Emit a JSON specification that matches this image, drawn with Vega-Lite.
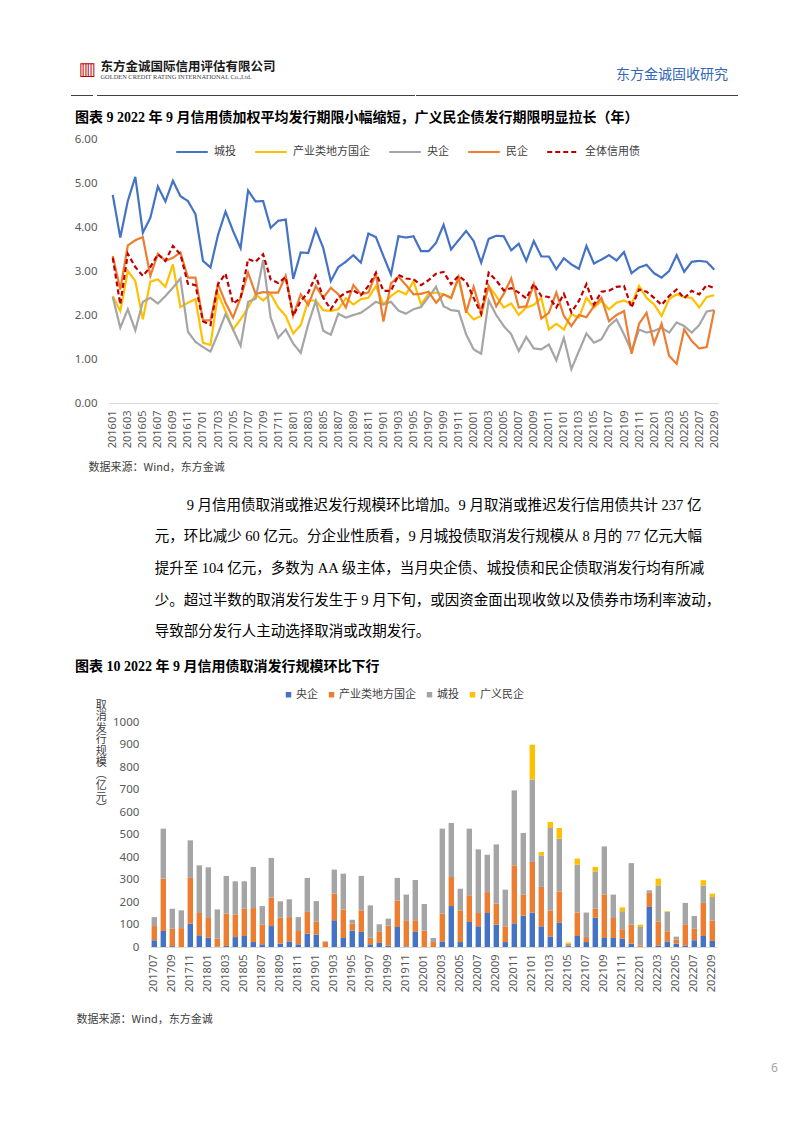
{
"$schema": "https://vega.github.io/schema/vega-lite/v6.json",
"background": "white",
"padding": {"left": 70, "top": 60, "right": 10, "bottom": 10},
"config": {"view": {"stroke": null}, "font": "Noto Sans CJK SC"},
"title": {"text": "6", "orient": "bottom", "anchor": "start", "frame": "group", "fontSize": 12, "fontWeight": "normal", "color": "#A6A6A6", "offset": 38, "dx": 700, "font": "Noto Sans"},
"concat": [
 {"hconcat": [
  {"width": 22, "height": 1, "data": {"values": [{}]}, "mark": {"type": "rule", "opacity": 0}, "encoding": {}, "view": {"fill": "#404040", "stroke": null},
   "title": {"text": "▥", "anchor": "start", "font": "DejaVu Sans", "fontSize": 18, "fontWeight": "normal", "color": "#C00000", "offset": 16, "dx": 8}},
  {"width": 318, "height": 1, "data": {"values": [{}]}, "mark": {"type": "rule", "opacity": 0}, "encoding": {}, "view": {"fill": "#404040", "stroke": null},
   "title": {"text": "东方金诚国际信用评估有限公司", "subtitle": "GOLDEN CREDIT RATING INTERNATIONAL Co.,Ltd.", "anchor": "start", "font": "Liberation Serif, Noto Sans CJK SC", "fontSize": 12.5, "fontWeight": "bold", "color": "#1A1A1A", "subtitleFont": "Liberation Serif", "subtitleFontSize": 6.4, "subtitleColor": "#404040", "subtitlePadding": 1, "offset": 14, "dx": 4}},
  {"width": 322, "height": 1, "data": {"values": [{}]}, "mark": {"type": "rule", "opacity": 0}, "encoding": {}, "view": {"fill": "#404040", "stroke": null},
   "title": {"text": "东方金诚固收研究", "anchor": "end", "font": "Noto Sans CJK SC", "fontSize": 14, "fontWeight": "normal", "color": "#3366B8", "offset": 13, "dx": -10}}
 ], "spacing": 0},
 {"concat": [
  {"width": 647, "height": 264,
   "title": {"text": "图表 9  2022 年 9 月信用债加权平均发行期限小幅缩短，广义民企债发行期限明显拉长（年）", "anchor": "start", "font": "Liberation Serif, Noto Sans CJK SC", "fontSize": 14, "fontWeight": "bold", "color": "#000000", "offset": 8, "dx": 4},
   "data": {"name": "d1"},
   "mark": {"type": "line", "strokeWidth": 2.2},
   "encoding": {
    "x": {"field": "m", "type": "ordinal", "scale": {"type": "point", "padding": 0.5, "range": [38, 647]},
     "axis": {"labelAngle": -90, "labelExpr": "parseInt(datum.value) % 2 == 1 ? datum.value : ''", "labelOverlap": false, "ticks": false, "domainColor": "#D9D9D9", "domainWidth": 1, "labelFont": "Noto Sans", "labelFontSize": 11, "labelColor": "#595959", "labelPadding": 7,
      "title": "数据来源：Wind，东方金诚", "titleFont": "Noto Sans CJK SC", "titleFontSize": 11, "titleFontWeight": "normal", "titleColor": "#404040", "titleAlign": "left", "titleAnchor": "start", "titleX": 17, "titlePadding": 14}},
    "y": {"field": "v", "type": "quantitative", "scale": {"domain": [0, 6], "nice": false},
     "axis": {"values": [0, 1, 2, 3, 4, 5, 6], "format": ".2f", "title": null, "domain": false, "ticks": false, "grid": false, "offset": -38, "labelFont": "Noto Sans", "labelFontSize": 11.5, "labelColor": "#595959", "labelPadding": 12}},
    "color": {"field": "s", "type": "nominal",
     "scale": {"domain": ["城投", "产业类地方国企", "央企", "民企", "全体信用债"], "range": ["#4472C4", "#FFC000", "#A5A5A5", "#ED7D31", "#C00000"]},
     "legend": {"title": null, "orient": "none", "legendX": 104, "legendY": -4, "direction": "horizontal", "symbolType": "stroke", "symbolSize": 1000, "symbolStrokeWidth": 2.2, "labelFont": "Noto Sans CJK SC", "labelFontSize": 11, "labelColor": "#404040", "columnPadding": 14, "labelOffset": 5, "padding": 0}},
    "strokeDash": {"field": "s", "type": "nominal",
     "scale": {"domain": ["城投", "产业类地方国企", "央企", "民企", "全体信用债"], "range": [[1, 0], [1, 0], [1, 0], [1, 0], [5, 3]]},
     "legend": {"title": null, "orient": "none", "legendX": 104, "legendY": -4, "direction": "horizontal", "symbolType": "stroke", "symbolSize": 1000, "symbolStrokeWidth": 2.2, "labelFont": "Noto Sans CJK SC", "labelFontSize": 11, "labelColor": "#404040", "columnPadding": 14, "labelOffset": 5, "padding": 0}}
   }
  },
  {"width": 646, "height": 225,
   "title": {"text": [
     "\u200B\u3000\u3000\u3000\u3000\u3000\u3000\u3000\u2002\u20099 月信用债取消或推迟发行规模环比增加。9 月取消或推迟发行信用债共计 237 亿",
     "\u200B\u3000\u3000\u3000\u3000\u3000\u2002元，环比减少 60 亿元。分企业性质看，9 月城投债取消发行规模从 8 月的 77 亿元大幅",
     "\u200B\u3000\u3000\u3000\u3000\u3000\u2002提升至 104 亿元，多数为 AA 级主体，当月央企债、城投债和民企债取消发行均有所减",
     "\u200B\u3000\u3000\u3000\u3000\u3000\u2002少。超过半数的取消发行发生于 9 月下旬，或因资金面出现收敛以及债券市场利率波动，",
     "\u200B\u3000\u3000\u3000\u3000\u3000\u2002导致部分发行人主动选择取消或改期发行。"],
    "subtitle": "图表 10  2022 年 9 月信用债取消发行规模环比下行",
    "anchor": "start", "font": "Liberation Serif, Noto Sans CJK SC", "fontSize": 14.5, "fontWeight": "normal", "lineHeight": 31.7, "color": "#000000", "dx": 4,
    "subtitleFont": "Liberation Serif, Noto Sans CJK SC", "subtitleFontSize": 14, "subtitleFontWeight": "bold", "subtitleColor": "#000000", "subtitlePadding": 20, "offset": 14},
   "data": {"name": "d2"},
   "transform": [{"calculate": "indexof(['央企', '产业类地方国企', '城投', '广义民企'], datum.s)", "as": "o"}],
   "mark": {"type": "bar"},
   "encoding": {
    "x": {"field": "m", "type": "ordinal", "scale": {"paddingInner": 0.4, "paddingOuter": 0.2, "range": [78.8, 645.8]},
     "axis": {"labelAngle": -90, "labelExpr": "parseInt(datum.value) % 2 == 1 ? datum.value : ''", "labelOverlap": false, "ticks": false, "domainColor": "#D9D9D9", "domainWidth": 1, "labelFont": "Noto Sans", "labelFontSize": 11, "labelColor": "#595959", "labelPadding": 7,
      "title": "数据来源：Wind，东方金诚", "titleFont": "Noto Sans CJK SC", "titleFontSize": 11, "titleFontWeight": "normal", "titleColor": "#404040", "titleAlign": "left", "titleAnchor": "start", "titleX": 5, "titlePadding": 22}},
    "y": {"field": "v", "type": "quantitative", "stack": "zero", "scale": {"domain": [0, 1000], "nice": false},
     "axis": {"values": [0, 100, 200, 300, 400, 500, 600, 700, 800, 900, 1000], "format": "d", "domain": false, "ticks": false, "grid": false, "offset": -78.8, "labelFont": "Noto Sans", "labelFontSize": 11.5, "labelColor": "#595959", "labelPadding": 11,
      "title": ["取", "消", "发", "行", "规", "模", "︵", "亿", "元", "︶"], "titleAngle": 0, "titleX": -49, "titleY": -23, "titleAlign": "center", "titleBaseline": "top", "titleFont": "Noto Sans CJK SC", "titleFontSize": 11, "titleLineHeight": 11.5, "titleFontWeight": "normal", "titleColor": "#404040"}},
    "color": {"field": "s", "type": "nominal", "sort": ["央企", "产业类地方国企", "城投", "广义民企"],
     "scale": {"domain": ["央企", "产业类地方国企", "城投", "广义民企"], "range": ["#4472C4", "#ED7D31", "#A5A5A5", "#FFC000"]},
     "legend": {"title": null, "orient": "none", "legendX": 212, "legendY": -33, "direction": "horizontal", "symbolType": "square", "symbolSize": 30, "symbolStrokeWidth": 0, "labelFont": "Noto Sans CJK SC", "labelFontSize": 11, "labelColor": "#404040", "columnPadding": 8, "labelOffset": 2, "padding": 0}},
    "order": {"field": "o", "type": "quantitative", "sort": "ascending"}
   }
  }
 ], "columns": 1, "spacing": 24,
 "resolve": {"scale": {"color": "independent", "strokeDash": "independent", "x": "independent", "y": "independent"}, "legend": {"color": "independent", "strokeDash": "independent"}}}
],
"columns": 1, "spacing": 15,
"resolve": {"scale": {"color": "independent", "strokeDash": "independent"}, "legend": {"color": "independent", "strokeDash": "independent"}},
"datasets": {
"d1": [
{"m":"201601","s":"城投","v":4.73},{"m":"201602","s":"城投","v":3.76},{"m":"201603","s":"城投","v":4.59},{"m":"201604","s":"城投","v":5.14},{"m":"201605","s":"城投","v":3.87},{"m":"201606","s":"城投","v":4.21},{"m":"201607","s":"城投","v":4.92},{"m":"201608","s":"城投","v":4.58},{"m":"201609","s":"城投","v":5.05},{"m":"201610","s":"城投","v":4.70},{"m":"201611","s":"城投","v":4.59},{"m":"201612","s":"城投","v":4.29},
{"m":"201701","s":"城投","v":3.23},{"m":"201702","s":"城投","v":3.08},{"m":"201703","s":"城投","v":3.82},{"m":"201704","s":"城投","v":4.35},{"m":"201705","s":"城投","v":3.91},{"m":"201706","s":"城投","v":3.52},{"m":"201707","s":"城投","v":4.83},{"m":"201708","s":"城投","v":4.58},{"m":"201709","s":"城投","v":4.59},{"m":"201710","s":"城投","v":3.98},{"m":"201711","s":"城投","v":4.14},{"m":"201712","s":"城投","v":4.17},
{"m":"201801","s":"城投","v":2.82},{"m":"201802","s":"城投","v":3.42},{"m":"201803","s":"城投","v":3.41},{"m":"201804","s":"城投","v":3.95},{"m":"201805","s":"城投","v":3.52},{"m":"201806","s":"城投","v":2.77},{"m":"201807","s":"城投","v":3.09},{"m":"201808","s":"城投","v":3.21},{"m":"201809","s":"城投","v":3.36},{"m":"201810","s":"城投","v":3.19},{"m":"201811","s":"城投","v":3.85},{"m":"201812","s":"城投","v":3.77},
{"m":"201901","s":"城投","v":3.34},{"m":"201902","s":"城投","v":2.92},{"m":"201903","s":"城投","v":3.79},{"m":"201904","s":"城投","v":3.76},{"m":"201905","s":"城投","v":3.79},{"m":"201906","s":"城投","v":3.45},{"m":"201907","s":"城投","v":3.45},{"m":"201908","s":"城投","v":3.64},{"m":"201909","s":"城投","v":4.05},{"m":"201910","s":"城投","v":3.49},{"m":"201911","s":"城投","v":3.70},{"m":"201912","s":"城投","v":3.91},
{"m":"202001","s":"城投","v":3.68},{"m":"202002","s":"城投","v":3.19},{"m":"202003","s":"城投","v":3.73},{"m":"202004","s":"城投","v":3.80},{"m":"202005","s":"城投","v":3.79},{"m":"202006","s":"城投","v":3.47},{"m":"202007","s":"城投","v":3.62},{"m":"202008","s":"城投","v":3.23},{"m":"202009","s":"城投","v":3.68},{"m":"202010","s":"城投","v":3.33},{"m":"202011","s":"城投","v":3.33},{"m":"202012","s":"城投","v":3.04},
{"m":"202101","s":"城投","v":3.29},{"m":"202102","s":"城投","v":3.15},{"m":"202103","s":"城投","v":3.05},{"m":"202104","s":"城投","v":3.57},{"m":"202105","s":"城投","v":3.17},{"m":"202106","s":"城投","v":3.26},{"m":"202107","s":"城投","v":3.36},{"m":"202108","s":"城投","v":3.24},{"m":"202109","s":"城投","v":3.43},{"m":"202110","s":"城投","v":2.95},{"m":"202111","s":"城投","v":3.08},{"m":"202112","s":"城投","v":3.14},
{"m":"202201","s":"城投","v":2.95},{"m":"202202","s":"城投","v":2.85},{"m":"202203","s":"城投","v":3.00},{"m":"202204","s":"城投","v":3.36},{"m":"202205","s":"城投","v":2.98},{"m":"202206","s":"城投","v":3.21},{"m":"202207","s":"城投","v":3.23},{"m":"202208","s":"城投","v":3.21},{"m":"202209","s":"城投","v":3.03},
{"m":"201601","s":"产业类地方国企","v":2.43},{"m":"201602","s":"产业类地方国企","v":2.09},{"m":"201603","s":"产业类地方国企","v":3.00},{"m":"201604","s":"产业类地方国企","v":2.77},{"m":"201605","s":"产业类地方国企","v":1.90},{"m":"201606","s":"产业类地方国企","v":2.76},{"m":"201607","s":"产业类地方国企","v":2.81},{"m":"201608","s":"产业类地方国企","v":2.64},{"m":"201609","s":"产业类地方国企","v":3.15},{"m":"201610","s":"产业类地方国企","v":2.18},{"m":"201611","s":"产业类地方国企","v":2.28},{"m":"201612","s":"产业类地方国企","v":2.36},
{"m":"201701","s":"产业类地方国企","v":1.37},{"m":"201702","s":"产业类地方国企","v":1.32},{"m":"201703","s":"产业类地方国企","v":2.48},{"m":"201704","s":"产业类地方国企","v":2.09},{"m":"201705","s":"产业类地方国企","v":1.67},{"m":"201706","s":"产业类地方国企","v":1.90},{"m":"201707","s":"产业类地方国企","v":2.17},{"m":"201708","s":"产业类地方国企","v":2.47},{"m":"201709","s":"产业类地方国企","v":2.33},{"m":"201710","s":"产业类地方国企","v":2.48},{"m":"201711","s":"产业类地方国企","v":2.17},{"m":"201712","s":"产业类地方国企","v":1.98},
{"m":"201801","s":"产业类地方国企","v":1.58},{"m":"201802","s":"产业类地方国企","v":1.77},{"m":"201803","s":"产业类地方国企","v":2.33},{"m":"201804","s":"产业类地方国企","v":2.33},{"m":"201805","s":"产业类地方国企","v":2.11},{"m":"201806","s":"产业类地方国企","v":2.09},{"m":"201807","s":"产业类地方国企","v":2.13},{"m":"201808","s":"产业类地方国企","v":2.38},{"m":"201809","s":"产业类地方国企","v":2.24},{"m":"201810","s":"产业类地方国企","v":2.36},{"m":"201811","s":"产业类地方国企","v":2.39},{"m":"201812","s":"产业类地方国企","v":2.66},
{"m":"201901","s":"产业类地方国企","v":2.24},{"m":"201902","s":"产业类地方国企","v":2.43},{"m":"201903","s":"产业类地方国企","v":2.55},{"m":"201904","s":"产业类地方国企","v":2.47},{"m":"201905","s":"产业类地方国企","v":2.77},{"m":"201906","s":"产业类地方国企","v":2.24},{"m":"201907","s":"产业类地方国企","v":2.48},{"m":"201908","s":"产业类地方国企","v":2.51},{"m":"201909","s":"产业类地方国企","v":2.47},{"m":"201910","s":"产业类地方国企","v":2.38},{"m":"201911","s":"产业类地方国企","v":2.85},{"m":"201912","s":"产业类地方国企","v":2.09},
{"m":"202001","s":"产业类地方国企","v":1.90},{"m":"202002","s":"产业类地方国企","v":1.98},{"m":"202003","s":"产业类地方国企","v":2.66},{"m":"202004","s":"产业类地方国企","v":2.43},{"m":"202005","s":"产业类地方国企","v":2.17},{"m":"202006","s":"产业类地方国企","v":2.26},{"m":"202007","s":"产业类地方国企","v":2.00},{"m":"202008","s":"产业类地方国企","v":2.17},{"m":"202009","s":"产业类地方国企","v":2.23},{"m":"202010","s":"产业类地方国企","v":2.39},{"m":"202011","s":"产业类地方国企","v":1.67},{"m":"202012","s":"产业类地方国企","v":1.80},
{"m":"202101","s":"产业类地方国企","v":1.67},{"m":"202102","s":"产业类地方国企","v":2.02},{"m":"202103","s":"产业类地方国企","v":1.94},{"m":"202104","s":"产业类地方国企","v":2.39},{"m":"202105","s":"产业类地方国企","v":2.17},{"m":"202106","s":"产业类地方国企","v":2.32},{"m":"202107","s":"产业类地方国企","v":2.13},{"m":"202108","s":"产业类地方国企","v":2.28},{"m":"202109","s":"产业类地方国企","v":2.33},{"m":"202110","s":"产业类地方国企","v":2.24},{"m":"202111","s":"产业类地方国企","v":2.66},{"m":"202112","s":"产业类地方国企","v":2.39},
{"m":"202201","s":"产业类地方国企","v":2.24},{"m":"202202","s":"产业类地方国企","v":1.98},{"m":"202203","s":"产业类地方国企","v":2.36},{"m":"202204","s":"产业类地方国企","v":2.47},{"m":"202205","s":"产业类地方国企","v":2.41},{"m":"202206","s":"产业类地方国企","v":2.39},{"m":"202207","s":"产业类地方国企","v":2.17},{"m":"202208","s":"产业类地方国企","v":2.41},{"m":"202209","s":"产业类地方国企","v":2.45},
{"m":"201601","s":"央企","v":2.41},{"m":"201602","s":"央企","v":1.71},{"m":"201603","s":"央企","v":2.13},{"m":"201604","s":"央企","v":1.65},{"m":"201605","s":"央企","v":2.30},{"m":"201606","s":"央企","v":2.39},{"m":"201607","s":"央企","v":2.26},{"m":"201608","s":"央企","v":2.43},{"m":"201609","s":"央企","v":2.62},{"m":"201610","s":"央企","v":2.83},{"m":"201611","s":"央企","v":1.62},{"m":"201612","s":"央企","v":1.39},
{"m":"201701","s":"央企","v":1.27},{"m":"201702","s":"央企","v":1.17},{"m":"201703","s":"央企","v":1.58},{"m":"201704","s":"央企","v":2.02},{"m":"201705","s":"央企","v":1.67},{"m":"201706","s":"央企","v":1.30},{"m":"201707","s":"央企","v":2.30},{"m":"201708","s":"央企","v":2.37},{"m":"201709","s":"央企","v":3.25},{"m":"201710","s":"央企","v":1.94},{"m":"201711","s":"央企","v":1.48},{"m":"201712","s":"央企","v":1.67},
{"m":"201801","s":"央企","v":1.35},{"m":"201802","s":"央企","v":1.14},{"m":"201803","s":"央企","v":1.79},{"m":"201804","s":"央企","v":2.32},{"m":"201805","s":"央企","v":1.64},{"m":"201806","s":"央企","v":1.55},{"m":"201807","s":"央企","v":2.03},{"m":"201808","s":"央企","v":1.94},{"m":"201809","s":"央企","v":2.00},{"m":"201810","s":"央企","v":2.05},{"m":"201811","s":"央企","v":2.17},{"m":"201812","s":"央企","v":2.30},
{"m":"201901","s":"央企","v":2.24},{"m":"201902","s":"央企","v":2.30},{"m":"201903","s":"央企","v":2.10},{"m":"201904","s":"央企","v":2.03},{"m":"201905","s":"央企","v":2.13},{"m":"201906","s":"央企","v":2.18},{"m":"201907","s":"央企","v":2.41},{"m":"201908","s":"央企","v":2.64},{"m":"201909","s":"央企","v":2.20},{"m":"201910","s":"央企","v":2.11},{"m":"201911","s":"央企","v":2.09},{"m":"201912","s":"央企","v":1.56},
{"m":"202001","s":"央企","v":1.22},{"m":"202002","s":"央企","v":1.12},{"m":"202003","s":"央企","v":2.33},{"m":"202004","s":"央企","v":2.00},{"m":"202005","s":"央企","v":1.75},{"m":"202006","s":"央企","v":1.56},{"m":"202007","s":"央企","v":1.18},{"m":"202008","s":"央企","v":1.50},{"m":"202009","s":"央企","v":1.24},{"m":"202010","s":"央企","v":1.22},{"m":"202011","s":"央企","v":1.33},{"m":"202012","s":"央企","v":0.97},
{"m":"202101","s":"央企","v":1.48},{"m":"202102","s":"央企","v":0.77},{"m":"202103","s":"央企","v":1.18},{"m":"202104","s":"央企","v":1.58},{"m":"202105","s":"央企","v":1.37},{"m":"202106","s":"央企","v":1.45},{"m":"202107","s":"央企","v":1.75},{"m":"202108","s":"央企","v":1.90},{"m":"202109","s":"央企","v":1.56},{"m":"202110","s":"央企","v":1.18},{"m":"202111","s":"央企","v":1.67},{"m":"202112","s":"央企","v":1.60},
{"m":"202201","s":"央企","v":1.64},{"m":"202202","s":"央企","v":1.71},{"m":"202203","s":"央企","v":1.60},{"m":"202204","s":"央企","v":1.83},{"m":"202205","s":"央企","v":1.75},{"m":"202206","s":"央企","v":1.60},{"m":"202207","s":"央企","v":1.77},{"m":"202208","s":"央企","v":2.08},{"m":"202209","s":"央企","v":2.11},
{"m":"201601","s":"民企","v":3.34},{"m":"201602","s":"民企","v":2.58},{"m":"201603","s":"民企","v":3.58},{"m":"201604","s":"民企","v":3.70},{"m":"201605","s":"民企","v":3.77},{"m":"201606","s":"民企","v":2.89},{"m":"201607","s":"民企","v":3.39},{"m":"201608","s":"民企","v":3.23},{"m":"201609","s":"民企","v":3.30},{"m":"201610","s":"民企","v":3.42},{"m":"201611","s":"民企","v":2.85},{"m":"201612","s":"民企","v":2.85},
{"m":"201701","s":"民企","v":1.88},{"m":"201702","s":"民企","v":1.88},{"m":"201703","s":"民企","v":2.70},{"m":"201704","s":"民企","v":2.28},{"m":"201705","s":"民企","v":1.94},{"m":"201706","s":"民企","v":2.39},{"m":"201707","s":"民企","v":2.96},{"m":"201708","s":"民企","v":2.48},{"m":"201709","s":"民企","v":2.52},{"m":"201710","s":"民企","v":2.51},{"m":"201711","s":"民企","v":2.51},{"m":"201712","s":"民企","v":2.89},
{"m":"201801","s":"民企","v":1.98},{"m":"201802","s":"民企","v":2.47},{"m":"201803","s":"民企","v":2.23},{"m":"201804","s":"民企","v":2.66},{"m":"201805","s":"民企","v":2.39},{"m":"201806","s":"民企","v":2.62},{"m":"201807","s":"民企","v":2.47},{"m":"201808","s":"民企","v":2.17},{"m":"201809","s":"民企","v":2.68},{"m":"201810","s":"民企","v":2.47},{"m":"201811","s":"民企","v":2.51},{"m":"201812","s":"民企","v":2.94},
{"m":"201901","s":"民企","v":1.85},{"m":"201902","s":"民企","v":2.72},{"m":"201903","s":"民企","v":2.87},{"m":"201904","s":"民企","v":2.68},{"m":"201905","s":"民企","v":2.47},{"m":"201906","s":"民企","v":2.48},{"m":"201907","s":"民企","v":2.53},{"m":"201908","s":"民企","v":2.28},{"m":"201909","s":"民企","v":2.47},{"m":"201910","s":"民企","v":2.39},{"m":"201911","s":"民企","v":2.86},{"m":"201912","s":"民企","v":2.05},
{"m":"202001","s":"民企","v":2.64},{"m":"202002","s":"民企","v":2.05},{"m":"202003","s":"民企","v":2.66},{"m":"202004","s":"民企","v":2.20},{"m":"202005","s":"民企","v":2.48},{"m":"202006","s":"民企","v":2.83},{"m":"202007","s":"民企","v":2.17},{"m":"202008","s":"民企","v":2.20},{"m":"202009","s":"民企","v":2.70},{"m":"202010","s":"民企","v":1.92},{"m":"202011","s":"民企","v":2.05},{"m":"202012","s":"民企","v":2.51},
{"m":"202101","s":"民企","v":1.98},{"m":"202102","s":"民企","v":1.75},{"m":"202103","s":"民企","v":2.00},{"m":"202104","s":"民企","v":1.95},{"m":"202105","s":"民企","v":2.20},{"m":"202106","s":"民企","v":2.39},{"m":"202107","s":"民企","v":1.86},{"m":"202108","s":"民企","v":2.00},{"m":"202109","s":"民企","v":2.09},{"m":"202110","s":"民企","v":1.12},{"m":"202111","s":"民企","v":1.80},{"m":"202112","s":"民企","v":2.05},
{"m":"202201","s":"民企","v":1.35},{"m":"202202","s":"民企","v":1.80},{"m":"202203","s":"民企","v":1.07},{"m":"202204","s":"民企","v":0.89},{"m":"202205","s":"民企","v":1.67},{"m":"202206","s":"民企","v":1.41},{"m":"202207","s":"民企","v":1.24},{"m":"202208","s":"民企","v":1.27},{"m":"202209","s":"民企","v":2.11},
{"m":"201601","s":"全体信用债","v":3.30},{"m":"201602","s":"全体信用债","v":2.24},{"m":"201603","s":"全体信用债","v":3.39},{"m":"201604","s":"全体信用债","v":3.09},{"m":"201605","s":"全体信用债","v":2.89},{"m":"201606","s":"全体信用债","v":3.09},{"m":"201607","s":"全体信用债","v":3.38},{"m":"201608","s":"全体信用债","v":3.23},{"m":"201609","s":"全体信用债","v":3.57},{"m":"201610","s":"全体信用债","v":3.38},{"m":"201611","s":"全体信用债","v":2.71},{"m":"201612","s":"全体信用债","v":2.68},
{"m":"201701","s":"全体信用债","v":1.86},{"m":"201702","s":"全体信用债","v":1.77},{"m":"201703","s":"全体信用债","v":2.70},{"m":"201704","s":"全体信用债","v":2.94},{"m":"201705","s":"全体信用债","v":2.26},{"m":"201706","s":"全体信用债","v":2.38},{"m":"201707","s":"全体信用债","v":3.27},{"m":"201708","s":"全体信用债","v":3.21},{"m":"201709","s":"全体信用债","v":3.38},{"m":"201710","s":"全体信用债","v":2.81},{"m":"201711","s":"全体信用债","v":2.73},{"m":"201712","s":"全体信用债","v":2.86},
{"m":"201801","s":"全体信用债","v":1.98},{"m":"201802","s":"全体信用债","v":2.32},{"m":"201803","s":"全体信用债","v":2.51},{"m":"201804","s":"全体信用债","v":2.89},{"m":"201805","s":"全体信用债","v":2.39},{"m":"201806","s":"全体信用债","v":2.13},{"m":"201807","s":"全体信用债","v":2.39},{"m":"201808","s":"全体信用债","v":2.51},{"m":"201809","s":"全体信用债","v":2.56},{"m":"201810","s":"全体信用债","v":2.45},{"m":"201811","s":"全体信用债","v":2.66},{"m":"201812","s":"全体信用债","v":2.96},
{"m":"201901","s":"全体信用债","v":2.55},{"m":"201902","s":"全体信用债","v":2.55},{"m":"201903","s":"全体信用债","v":2.91},{"m":"201904","s":"全体信用债","v":2.83},{"m":"201905","s":"全体信用债","v":2.81},{"m":"201906","s":"全体信用债","v":2.68},{"m":"201907","s":"全体信用债","v":2.79},{"m":"201908","s":"全体信用债","v":2.94},{"m":"201909","s":"全体信用债","v":2.98},{"m":"201910","s":"全体信用债","v":2.70},{"m":"201911","s":"全体信用债","v":2.89},{"m":"201912","s":"全体信用债","v":2.76},
{"m":"202001","s":"全体信用债","v":2.39},{"m":"202002","s":"全体信用债","v":2.03},{"m":"202003","s":"全体信用债","v":2.96},{"m":"202004","s":"全体信用债","v":2.79},{"m":"202005","s":"全体信用债","v":2.56},{"m":"202006","s":"全体信用债","v":2.61},{"m":"202007","s":"全体信用债","v":2.51},{"m":"202008","s":"全体信用债","v":2.38},{"m":"202009","s":"全体信用债","v":2.71},{"m":"202010","s":"全体信用债","v":2.43},{"m":"202011","s":"全体信用债","v":2.41},{"m":"202012","s":"全体信用债","v":2.17},
{"m":"202101","s":"全体信用债","v":2.48},{"m":"202102","s":"全体信用债","v":2.06},{"m":"202103","s":"全体信用债","v":2.32},{"m":"202104","s":"全体信用债","v":2.70},{"m":"202105","s":"全体信用债","v":2.24},{"m":"202106","s":"全体信用债","v":2.53},{"m":"202107","s":"全体信用债","v":2.55},{"m":"202108","s":"全体信用债","v":2.64},{"m":"202109","s":"全体信用债","v":2.66},{"m":"202110","s":"全体信用债","v":2.17},{"m":"202111","s":"全体信用债","v":2.58},{"m":"202112","s":"全体信用债","v":2.53},
{"m":"202201","s":"全体信用债","v":2.39},{"m":"202202","s":"全体信用债","v":2.23},{"m":"202203","s":"全体信用债","v":2.43},{"m":"202204","s":"全体信用债","v":2.58},{"m":"202205","s":"全体信用债","v":2.38},{"m":"202206","s":"全体信用债","v":2.55},{"m":"202207","s":"全体信用债","v":2.47},{"m":"202208","s":"全体信用债","v":2.68},{"m":"202209","s":"全体信用债","v":2.61}
],
"d2": [
{"m":"201707","s":"央企","v":30},{"m":"201707","s":"产业类地方国企","v":63},{"m":"201707","s":"城投","v":40},
{"m":"201708","s":"央企","v":71},{"m":"201708","s":"产业类地方国企","v":233},{"m":"201708","s":"城投","v":222},
{"m":"201709","s":"央企","v":4},{"m":"201709","s":"产业类地方国企","v":77},{"m":"201709","s":"城投","v":89},
{"m":"201710","s":"产业类地方国企","v":84},{"m":"201710","s":"城投","v":79},
{"m":"201711","s":"央企","v":104},{"m":"201711","s":"产业类地方国企","v":203},{"m":"201711","s":"城投","v":167},
{"m":"201712","s":"央企","v":52},{"m":"201712","s":"产业类地方国企","v":99},{"m":"201712","s":"城投","v":212},
{"m":"201801","s":"央企","v":41},{"m":"201801","s":"产业类地方国企","v":88},{"m":"201801","s":"城投","v":225},
{"m":"201802","s":"央企","v":2},{"m":"201802","s":"产业类地方国企","v":35},{"m":"201802","s":"城投","v":130},
{"m":"201803","s":"央企","v":5},{"m":"201803","s":"产业类地方国企","v":143},{"m":"201803","s":"城投","v":168},
{"m":"201804","s":"央企","v":44},{"m":"201804","s":"产业类地方国企","v":101},{"m":"201804","s":"城投","v":147},
{"m":"201805","s":"央企","v":49},{"m":"201805","s":"产业类地方国企","v":121},{"m":"201805","s":"城投","v":122},
{"m":"201806","s":"央企","v":22},{"m":"201806","s":"产业类地方国企","v":151},{"m":"201806","s":"城投","v":183},
{"m":"201807","s":"央企","v":12},{"m":"201807","s":"产业类地方国企","v":87},{"m":"201807","s":"城投","v":83},
{"m":"201808","s":"央企","v":93},{"m":"201808","s":"产业类地方国企","v":126},{"m":"201808","s":"城投","v":177},
{"m":"201809","s":"央企","v":15},{"m":"201809","s":"产业类地方国企","v":115},{"m":"201809","s":"城投","v":73},
{"m":"201810","s":"央企","v":25},{"m":"201810","s":"产业类地方国企","v":108},{"m":"201810","s":"城投","v":79},
{"m":"201811","s":"央企","v":12},{"m":"201811","s":"产业类地方国企","v":59},{"m":"201811","s":"城投","v":62},
{"m":"201812","s":"央企","v":59},{"m":"201812","s":"产业类地方国企","v":97},{"m":"201812","s":"城投","v":151},
{"m":"201901","s":"央企","v":55},{"m":"201901","s":"产业类地方国企","v":59},{"m":"201901","s":"城投","v":90},
{"m":"201902","s":"产业类地方国企","v":22},{"m":"201902","s":"城投","v":3},
{"m":"201903","s":"央企","v":119},{"m":"201903","s":"产业类地方国企","v":118},{"m":"201903","s":"城投","v":107},
{"m":"201904","s":"央企","v":40},{"m":"201904","s":"产业类地方国企","v":127},{"m":"201904","s":"城投","v":159},
{"m":"201905","s":"央企","v":73},{"m":"201905","s":"产业类地方国企","v":31},{"m":"201905","s":"城投","v":17},
{"m":"201906","s":"央企","v":67},{"m":"201906","s":"产业类地方国企","v":96},{"m":"201906","s":"城投","v":153},
{"m":"201907","s":"央企","v":12},{"m":"201907","s":"产业类地方国企","v":29},{"m":"201907","s":"城投","v":144},
{"m":"201908","s":"央企","v":18},{"m":"201908","s":"产业类地方国企","v":49},{"m":"201908","s":"城投","v":34},
{"m":"201909","s":"央企","v":6},{"m":"201909","s":"产业类地方国企","v":89},{"m":"201909","s":"城投","v":31},
{"m":"201910","s":"央企","v":89},{"m":"201910","s":"产业类地方国企","v":118},{"m":"201910","s":"城投","v":100},
{"m":"201911","s":"央企","v":3},{"m":"201911","s":"产业类地方国企","v":113},{"m":"201911","s":"城投","v":117},
{"m":"201912","s":"央企","v":67},{"m":"201912","s":"产业类地方国企","v":52},{"m":"201912","s":"城投","v":179},
{"m":"202001","s":"产业类地方国企","v":73},{"m":"202001","s":"城投","v":118},
{"m":"202002","s":"产业类地方国企","v":22},{"m":"202002","s":"城投","v":18},
{"m":"202003","s":"央企","v":25},{"m":"202003","s":"产业类地方国企","v":123},{"m":"202003","s":"城投","v":378},
{"m":"202004","s":"央企","v":182},{"m":"202004","s":"产业类地方国企","v":129},{"m":"202004","s":"城投","v":240},
{"m":"202005","s":"央企","v":22},{"m":"202005","s":"产业类地方国企","v":141},{"m":"202005","s":"城投","v":96},
{"m":"202006","s":"央企","v":111},{"m":"202006","s":"产业类地方国企","v":119},{"m":"202006","s":"城投","v":296},
{"m":"202007","s":"央企","v":92},{"m":"202007","s":"产业类地方国企","v":59},{"m":"202007","s":"城投","v":283},
{"m":"202008","s":"央企","v":151},{"m":"202008","s":"产业类地方国企","v":93},{"m":"202008","s":"城投","v":166},
{"m":"202009","s":"央企","v":99},{"m":"202009","s":"产业类地方国企","v":94},{"m":"202009","s":"城投","v":263},
{"m":"202010","s":"央企","v":22},{"m":"202010","s":"产业类地方国企","v":70},{"m":"202010","s":"城投","v":163},
{"m":"202011","s":"央企","v":105},{"m":"202011","s":"产业类地方国企","v":258},{"m":"202011","s":"城投","v":333},
{"m":"202012","s":"央企","v":139},{"m":"202012","s":"产业类地方国企","v":95},{"m":"202012","s":"城投","v":273},
{"m":"202101","s":"央企","v":153},{"m":"202101","s":"产业类地方国企","v":225},{"m":"202101","s":"城投","v":367},{"m":"202101","s":"广义民企","v":154},
{"m":"202102","s":"央企","v":92},{"m":"202102","s":"产业类地方国企","v":175},{"m":"202102","s":"城投","v":140},{"m":"202102","s":"广义民企","v":15},
{"m":"202103","s":"央企","v":47},{"m":"202103","s":"产业类地方国企","v":116},{"m":"202103","s":"城投","v":366},{"m":"202103","s":"广义民企","v":27},
{"m":"202104","s":"央企","v":107},{"m":"202104","s":"产业类地方国企","v":140},{"m":"202104","s":"城投","v":234},{"m":"202104","s":"广义民企","v":48},
{"m":"202105","s":"央企","v":4},{"m":"202105","s":"产业类地方国企","v":4},{"m":"202105","s":"城投","v":7},{"m":"202105","s":"广义民企","v":5},
{"m":"202106","s":"央企","v":49},{"m":"202106","s":"产业类地方国企","v":104},{"m":"202106","s":"城投","v":213},{"m":"202106","s":"广义民企","v":27},
{"m":"202107","s":"央企","v":22},{"m":"202107","s":"产业类地方国企","v":22},{"m":"202107","s":"城投","v":109},
{"m":"202108","s":"央企","v":130},{"m":"202108","s":"产业类地方国企","v":40},{"m":"202108","s":"城投","v":166},{"m":"202108","s":"广义民企","v":20},
{"m":"202109","s":"央企","v":40},{"m":"202109","s":"产业类地方国企","v":194},{"m":"202109","s":"城投","v":213},
{"m":"202110","s":"央企","v":40},{"m":"202110","s":"产业类地方国企","v":89},{"m":"202110","s":"城投","v":104},
{"m":"202111","s":"央企","v":37},{"m":"202111","s":"产业类地方国企","v":42},{"m":"202111","s":"城投","v":80},{"m":"202111","s":"广义民企","v":17},
{"m":"202112","s":"央企","v":15},{"m":"202112","s":"产业类地方国企","v":84},{"m":"202112","s":"城投","v":274},
{"m":"202201","s":"产业类地方国企","v":7},{"m":"202201","s":"城投","v":82},{"m":"202201","s":"广义民企","v":10},
{"m":"202202","s":"央企","v":178},{"m":"202202","s":"产业类地方国企","v":63},{"m":"202202","s":"城投","v":11},
{"m":"202203","s":"央企","v":7},{"m":"202203","s":"产业类地方国企","v":107},{"m":"202203","s":"城投","v":160},{"m":"202203","s":"广义民企","v":30},
{"m":"202204","s":"央企","v":25},{"m":"202204","s":"产业类地方国企","v":45},{"m":"202204","s":"城投","v":86},{"m":"202204","s":"广义民企","v":3},
{"m":"202205","s":"央企","v":15},{"m":"202205","s":"产业类地方国企","v":18},{"m":"202205","s":"城投","v":13},
{"m":"202206","s":"央企","v":7},{"m":"202206","s":"产业类地方国企","v":94},{"m":"202206","s":"城投","v":95},
{"m":"202207","s":"央企","v":30},{"m":"202207","s":"产业类地方国企","v":51},{"m":"202207","s":"城投","v":57},
{"m":"202208","s":"央企","v":49},{"m":"202208","s":"产业类地方国企","v":147},{"m":"202208","s":"城投","v":77},{"m":"202208","s":"广义民企","v":24},
{"m":"202209","s":"央企","v":27},{"m":"202209","s":"产业类地方国企","v":91},{"m":"202209","s":"城投","v":104},{"m":"202209","s":"广义民企","v":15}
]
}
}
